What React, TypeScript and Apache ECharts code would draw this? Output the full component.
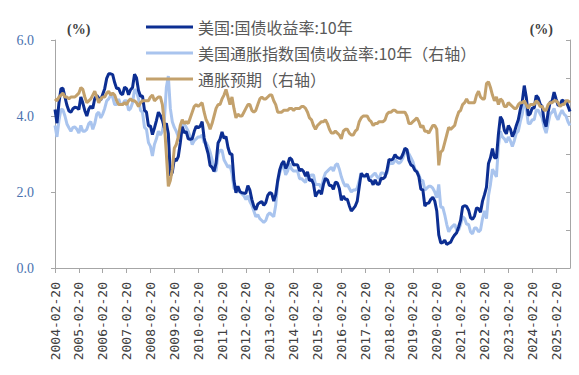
import React, { useEffect, useRef } from "react";
import * as echarts from "echarts";

// Monthly observations, 2004-02 .. 2025-09 (day 20 of each month)
const categories: string[] = [];
for (let y = 2004; y <= 2025; y++) {
  for (let m = 1; m <= 12; m++) {
    if (y === 2004 && m < 2) continue;
    if (y === 2025 && m > 9) break;
    categories.push(`${y}-${String(m).padStart(2, "0")}-20`);
  }
}

const seriesNames = [
  "美国:国债收益率:10年",
  "美国通胀指数国债收益率:10年（右轴）",
  "通胀预期（右轴）",
];

// US 10Y Treasury yield (%), left axis
const yield10y: number[] = [
  4.17, 3.81, 4.35, 4.72, 4.73, 4.5, 4.28, 4.13, 4.1, 4.19, 4.23,
  4.22, 4.17, 4.5, 4.34, 4.14, 4.0, 4.18, 4.26, 4.2, 4.46, 4.54, 4.47,
  4.42, 4.57, 4.72, 4.99, 5.11, 5.11, 5.09, 4.88, 4.72, 4.73, 4.6, 4.56,
  4.76, 4.72, 4.56, 4.69, 4.75, 5.1, 5.0, 4.67, 4.52, 4.53, 4.15, 4.1,
  3.74, 3.74, 3.51, 3.68, 3.88, 4.1, 4.01, 3.89, 3.69, 3.81, 3.53, 2.42,
  2.52, 2.87, 2.82, 2.93, 3.29, 3.72, 3.56, 3.59, 3.4, 3.39, 3.4, 3.59,
  3.73, 3.69, 3.73, 3.85, 3.42, 3.2, 3.01, 2.7, 2.65, 2.54, 2.76, 3.29,
  3.39, 3.58, 3.41, 3.46, 3.17, 3.0, 3.0, 2.3, 1.98, 2.15, 2.01, 1.98,
  1.97, 1.97, 2.17, 2.05, 1.8, 1.62, 1.53, 1.68, 1.72, 1.75, 1.65, 1.72,
  1.91, 1.98, 1.96, 1.76, 1.93, 2.3, 2.58, 2.74, 2.81, 2.62, 2.72, 2.9,
  2.86, 2.71, 2.72, 2.71, 2.56, 2.6, 2.54, 2.42, 2.53, 2.3, 2.33, 2.21,
  1.88, 1.98, 2.04, 1.94, 2.2, 2.36, 2.32, 2.17, 2.17, 2.07, 2.26, 2.24,
  2.09, 1.78, 1.89, 1.81, 1.81, 1.64, 1.5, 1.56, 1.63, 1.76, 2.14, 2.49,
  2.43, 2.42, 2.48, 2.3, 2.3, 2.19, 2.32, 2.21, 2.2, 2.36, 2.35, 2.4,
  2.58, 2.86, 2.84, 2.87, 2.98, 2.91, 2.89, 2.89, 3.0, 3.15, 3.12, 2.83,
  2.71, 2.68, 2.57, 2.53, 2.4, 2.07, 2.06, 1.63, 1.7, 1.71, 1.81, 1.86,
  1.76, 1.5, 0.87, 0.66, 0.67, 0.73, 0.62, 0.65, 0.68, 0.79, 0.87, 0.93,
  1.08, 1.26, 1.61, 1.64, 1.62, 1.52, 1.32, 1.28, 1.37, 1.58, 1.56, 1.47,
  1.76, 1.93, 2.13, 2.75, 2.9, 3.14, 2.9, 2.9, 3.52, 3.98, 3.89, 3.62,
  3.53, 3.75, 3.66, 3.46, 3.57, 3.75, 3.9, 4.17, 4.38, 4.8, 4.5, 4.02,
  4.06, 4.21, 4.21, 4.54, 4.48, 4.31, 4.25, 3.87, 3.72, 4.1, 4.36, 4.39,
  4.63, 4.45, 4.28, 4.28, 4.42, 4.38, 4.39, 4.26, 4.12,
];

// US 10Y TIPS real yield (%), right axis
const tips10y: number[] = [
  1.75, 1.45, 1.88, 2.18, 2.16, 2.0, 1.79, 1.69, 1.6, 1.7, 1.71,
  1.65, 1.55, 1.75, 1.6, 1.6, 1.65, 1.8, 1.85, 1.65, 1.8, 2.05, 2.1,
  1.95, 2.05, 2.2, 2.4, 2.45, 2.55, 2.5, 2.3, 2.3, 2.45, 2.3, 2.3,
  2.4, 2.4, 2.15, 2.2, 2.35, 2.7, 2.65, 2.45, 2.15, 2.1, 1.7, 1.65,
  1.3, 1.2, 0.95, 1.25, 1.4, 1.6, 1.5, 1.6, 1.9, 2.75, 3.05, 2.2,
  1.85, 1.7, 1.6, 1.45, 1.5, 1.8, 1.8, 1.7, 1.6, 1.45, 1.25, 1.35,
  1.4, 1.45, 1.45, 1.5, 1.3, 1.3, 1.2, 1.05, 0.85, 0.55, 0.55, 1.0,
  1.1, 1.1, 0.85, 0.75, 0.65, 0.7, 0.5, 0.1, 0.05, 0.1, 0.0, -0.05,
  -0.1, -0.2, -0.1, -0.25, -0.35, -0.5, -0.65, -0.6, -0.7, -0.75, -0.8, -0.75,
  -0.6, -0.55, -0.6, -0.65, -0.35, 0.25, 0.5, 0.65, 0.7, 0.45, 0.55, 0.75,
  0.6, 0.55, 0.55, 0.55, 0.35, 0.35, 0.3, 0.25, 0.45, 0.4, 0.45, 0.45,
  0.2, 0.2, 0.2, 0.1, 0.35, 0.5, 0.55, 0.6, 0.65, 0.55, 0.7, 0.75,
  0.6, 0.4, 0.25, 0.15, 0.2, 0.1, 0.0, 0.05, 0.05, 0.1, 0.3, 0.5,
  0.4, 0.4, 0.45, 0.35, 0.4, 0.45, 0.5, 0.4, 0.35, 0.5, 0.5, 0.45,
  0.5, 0.75, 0.75, 0.75, 0.85, 0.8, 0.75, 0.8, 0.9, 1.05, 1.1, 1.0,
  0.9, 0.8, 0.6, 0.55, 0.45, 0.3, 0.3, 0.05, 0.1, 0.15, 0.15, 0.1,
  0.0, -0.15, 0.2, -0.4, -0.4, -0.6, -0.85, -1.05, -0.95, -0.9, -0.85, -1.0,
  -1.0, -0.85, -0.65, -0.7, -0.85, -0.85, -1.05, -1.1, -0.95, -0.95, -1.05, -1.0,
  -0.7, -0.5, -0.7, -0.1, 0.2, 0.6, 0.5, 0.4, 1.2, 1.6, 1.45, 1.4,
  1.3, 1.45, 1.35, 1.2, 1.35, 1.55, 1.6, 1.85, 2.05, 2.4, 2.2, 1.8,
  1.8, 1.9, 1.9, 2.15, 2.15, 2.05, 1.95, 1.7, 1.55, 1.8, 2.05, 2.1,
  2.2, 2.0, 1.9, 2.05, 2.15, 2.05, 2.0, 1.85, 1.75,
];

// 10Y breakeven inflation (%), right axis
const breakeven: number[] = [
  2.45, 2.4, 2.5, 2.55, 2.6, 2.5, 2.5, 2.45, 2.5, 2.5, 2.5,
  2.55, 2.6, 2.75, 2.7, 2.5, 2.35, 2.4, 2.45, 2.55, 2.65, 2.5, 2.35,
  2.45, 2.5, 2.5, 2.6, 2.65, 2.55, 2.6, 2.55, 2.4, 2.3, 2.3, 2.3,
  2.35, 2.3, 2.4, 2.45, 2.4, 2.4, 2.35, 2.25, 2.35, 2.4, 2.4, 2.4,
  2.4, 2.5, 2.55, 2.4, 2.45, 2.5, 2.5, 2.3, 1.8, 1.0, 0.15, 0.3,
  0.6, 1.15, 1.25, 1.45, 1.75, 1.9, 1.8, 1.85, 1.8, 1.95, 2.1, 2.25,
  2.3, 2.25, 2.3, 2.35, 2.1, 1.9, 1.8, 1.65, 1.8, 2.0, 2.2, 2.3,
  2.3, 2.45, 2.55, 2.7, 2.5, 2.3, 2.5, 2.2, 1.95, 2.05, 2.0, 2.0,
  2.1, 2.2, 2.3, 2.3, 2.15, 2.1, 2.15, 2.3, 2.45, 2.5, 2.45, 2.45,
  2.5, 2.55, 2.55, 2.4, 2.3, 2.1, 2.1, 2.1, 2.15, 2.15, 2.15, 2.2,
  2.2, 2.15, 2.2, 2.2, 2.2, 2.25, 2.25, 2.2, 2.1, 1.95, 1.9, 1.75,
  1.65, 1.75, 1.8, 1.85, 1.85, 1.9, 1.8, 1.65, 1.55, 1.55, 1.6, 1.55,
  1.5, 1.4, 1.6, 1.65, 1.65, 1.55, 1.5, 1.5, 1.6, 1.65, 1.85, 1.95,
  2.0, 2.0, 2.0, 1.9, 1.85, 1.75, 1.8, 1.8, 1.85, 1.85, 1.85, 1.9,
  2.05, 2.1, 2.1, 2.15, 2.15, 2.1, 2.1, 2.1, 2.1, 2.1, 2.0, 1.8,
  1.8, 1.85, 1.9, 1.95, 1.85, 1.7, 1.75, 1.6, 1.6, 1.55, 1.65, 1.75,
  1.75, 1.65, 0.7, 1.05, 1.1, 1.3, 1.5, 1.7, 1.65, 1.7, 1.75, 1.95,
  2.1, 2.15, 2.3, 2.35, 2.45, 2.35, 2.35, 2.35, 2.35, 2.55, 2.65, 2.5,
  2.45, 2.45, 2.85, 2.9, 2.75, 2.55, 2.4, 2.5, 2.3, 2.45, 2.4, 2.25,
  2.25, 2.35, 2.3, 2.25, 2.2, 2.2, 2.3, 2.35, 2.35, 2.4, 2.3, 2.2,
  2.3, 2.3, 2.3, 2.4, 2.35, 2.25, 2.25, 2.15, 2.15, 2.3, 2.35, 2.35,
  2.4, 2.4, 2.35, 2.25, 2.3, 2.3, 2.4, 2.4, 2.35,
];

const leftTicks = { min: 0, max: 6, interval: 2 };
const rightTicks = { min: -2, max: 4, interval: 1 };

const colors = ["#0c2e92", "#a9c4ee", "#c3a16c"];

export default function App() {
  const ref = useRef<HTMLDivElement>(null);

  useEffect(() => {
    if (!ref.current) return;
    const chart = echarts.init(ref.current, undefined, { renderer: "svg" });
    const serif = "'Liberation Serif', 'Times New Roman', serif";
    chart.setOption({
      animation: false,
      backgroundColor: "#ffffff",
      grid: { left: 55, right: 9, top: 40, bottom: 107, containLabel: false },
      legend: {
        orient: "vertical",
        left: 141,
        top: 14,
        itemWidth: 47,
        itemHeight: 3,
        itemGap: 10,
        icon: "rect",
        data: seriesNames,
        textStyle: {
          fontFamily: "'Noto Sans CJK SC', sans-serif",
          fontSize: 16,
          color: "#595959",
        },
      },
      xAxis: {
        type: "category",
        data: categories,
        boundaryGap: false,
        axisLine: { lineStyle: { color: "#a6a6a6", width: 1 } },
        axisTick: { interval: 11, length: 5, lineStyle: { color: "#a6a6a6" } },
        axisLabel: {
          interval: 11,
          rotate: 90,
          margin: 14,
          fontFamily: "'DejaVu Sans Mono', monospace",
          fontSize: 13,
          color: "#404040",
        },
        splitLine: { show: false },
      },
      yAxis: [
        {
          type: "value",
          position: "left",
          ...leftTicks,
          name: "(%)",
          nameLocation: "end",
          nameGap: 4,
          nameTextStyle: {
            fontFamily: serif,
            fontSize: 14,
            fontWeight: "bold",
            color: "#404040",
            align: "left",
            padding: [0, 0, 0, 12],
          },
          axisLine: { show: true, lineStyle: { color: "#a6a6a6" } },
          axisTick: { show: true, length: 4, lineStyle: { color: "#a6a6a6" } },
          axisLabel: {
            margin: 21,
            fontFamily: serif,
            fontSize: 14,
            color: "#4a72b0",
            formatter: (v: number) => v.toFixed(1),
          },
          splitLine: { show: false },
        },
        {
          type: "value",
          position: "right",
          ...rightTicks,
          name: "(%)",
          nameLocation: "end",
          nameGap: 4,
          nameTextStyle: {
            fontFamily: serif,
            fontSize: 14,
            fontWeight: "bold",
            color: "#404040",
            align: "right",
            padding: [0, 17, 0, 0],
          },
          axisLine: { show: true, lineStyle: { color: "#a6a6a6" } },
          axisTick: { show: true, inside: true, length: 4, lineStyle: { color: "#a6a6a6" } },
          axisLabel: { show: false },
          splitLine: { show: false },
        },
      ],
      series: [
        {
          name: seriesNames[1],
          type: "line",
          yAxisIndex: 1,
          data: tips10y,
          symbol: "none",
          lineStyle: { color: colors[1], width: 3 },
          itemStyle: { color: colors[1] },
          z: 2,
        },
        {
          name: seriesNames[0],
          type: "line",
          yAxisIndex: 0,
          data: yield10y,
          symbol: "none",
          lineStyle: { color: colors[0], width: 3 },
          itemStyle: { color: colors[0] },
          z: 3,
        },
        {
          name: seriesNames[2],
          type: "line",
          yAxisIndex: 1,
          data: breakeven,
          symbol: "none",
          lineStyle: { color: colors[2], width: 3 },
          itemStyle: { color: colors[2] },
          z: 4,
        },
      ],
    });
    return () => chart.dispose();
  }, []);

  return (
    <div
      ref={ref}
      style={{ position: "fixed", left: 0, top: 0, width: 579, height: 375, background: "#fff" }}
    />
  );
}
